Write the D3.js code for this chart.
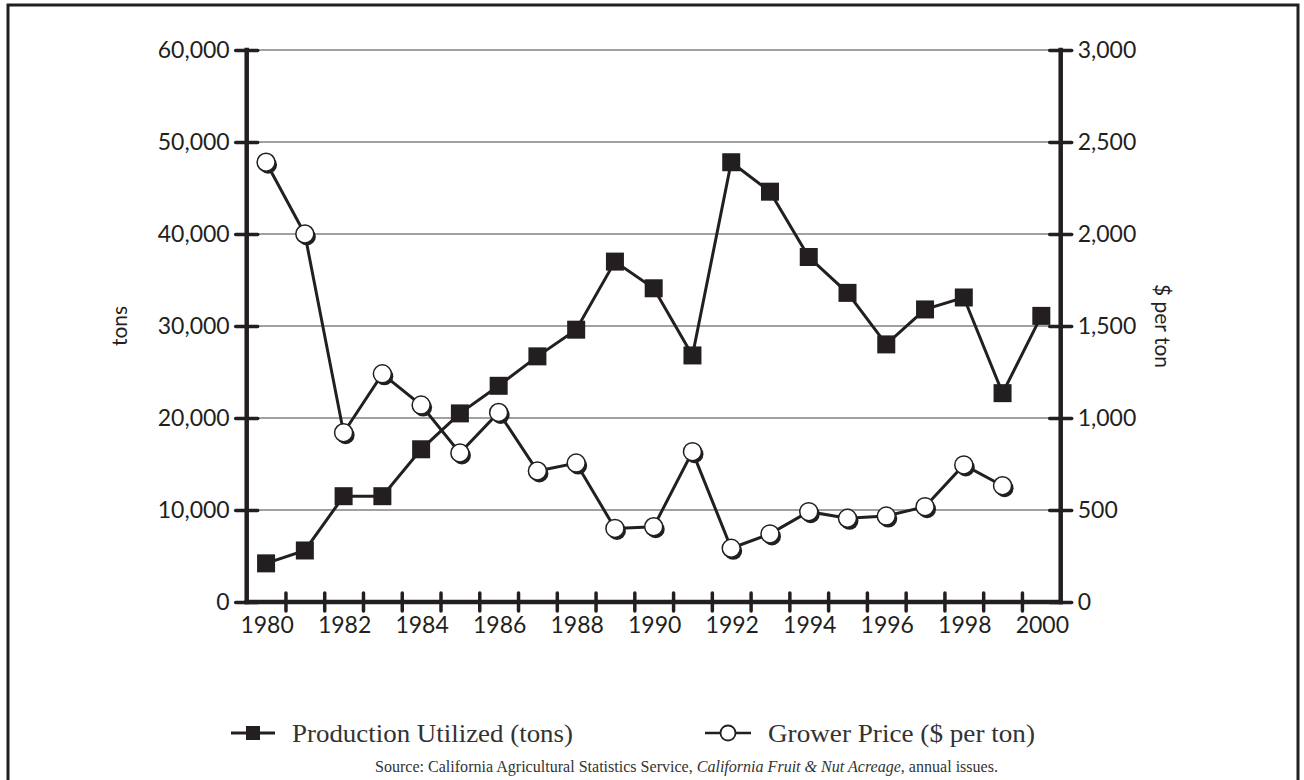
<!DOCTYPE html>
<html>
<head>
<meta charset="utf-8">
<script src="https://cdn.jsdelivr.net/npm/d3@7"></script>
<style>
  html, body { margin: 0; padding: 0; background: #fff; }
  svg { display: block; }
  .tick text { font-family: Lato, "Open Sans", sans-serif; font-size: 23px; fill: #231f20; }
</style>
</head>
<body>
<svg id="chart" width="1304" height="780"></svg>
<script>
"use strict";

// years on the category axis
var years = [1980, 1981, 1982, 1983, 1984, 1985, 1986, 1987, 1988, 1989, 1990,
             1991, 1992, 1993, 1994, 1995, 1996, 1997, 1998, 1999, 2000];
var yearLabels = [1980, 1982, 1984, 1986, 1988, 1990, 1992, 1994, 1996, 1998, 2000];

// production utilized, tons (left axis)
var production = [4200, 5600, 11500, 11500, 16600, 20500, 23500, 26700, 29600, 37000, 34100,
                   26800, 47800, 44600, 37500, 33600, 28000, 31800, 33100, 22700, 31100];

// grower price, $ per ton (right axis); no value for 2000
var price = [2390, 2000, 920, 1240, 1070, 810, 1030, 712, 755, 400, 409,
             817, 292, 370, 491, 455, 467, 518, 745, 632, null];

var tonTicks = [0, 10000, 20000, 30000, 40000, 50000, 60000];
var priceTicks = [0, 500, 1000, 1500, 2000, 2500, 3000];

var ink = "#231f20";
var plotLeft = 246.7, plotRight = 1060.7, plotTop = 50, plotBottom = 602;

var svg = d3.select("#chart");

// outer frame (bottom edge runs off the page)
svg.append("rect")
    .attr("x", 8).attr("y", 5)
    .attr("width", 1290).attr("height", 800)
    .attr("fill", "none")
    .attr("stroke", ink)
    .attr("stroke-width", 3);

var x = d3.scaleBand().domain(years).range([plotLeft, plotRight]);
var xEdge = d3.scaleLinear().domain([1980, 2001]).range([plotLeft, plotRight]);
var yTons = d3.scaleLinear().domain([0, 60000]).range([plotBottom, plotTop]);
var yPrice = d3.scaleLinear().domain([0, 3000]).range([plotBottom, plotTop]);

function cx(d, i) { return x(years[i]) + x.bandwidth() / 2; }

// gridlines
svg.append("g")
    .selectAll("line")
    .data(tonTicks.slice(1))
    .join("line")
    .attr("x1", plotLeft).attr("x2", plotRight)
    .attr("y1", function (d) { return yTons(d); })
    .attr("y2", function (d) { return yTons(d); })
    .attr("stroke", "#444")
    .attr("stroke-width", 1.2);

function styleAxis(g, crossing) {
    g.select(".domain").remove();
    g.selectAll(".tick line")
        .attr("stroke", ink)
        .attr("stroke-width", 3.5)
        .attr("stroke-linecap", "round");
    g.selectAll(".tick line").each(function () {
        var l = d3.select(this);
        if (crossing === "h") l.attr("x1", -(+l.attr("x2")));
        else l.attr("y1", -(+l.attr("y2")));
    });
}

// left axis
svg.append("g")
    .attr("transform", "translate(" + plotLeft + ",0)")
    .call(d3.axisLeft(yTons).tickValues(tonTicks).tickSize(11).tickPadding(6)
        .tickFormat(d3.format(",")))
    .call(styleAxis, "h");

// right axis
svg.append("g")
    .attr("transform", "translate(" + plotRight + ",0)")
    .call(d3.axisRight(yPrice).tickValues(priceTicks).tickSize(11).tickPadding(6)
        .tickFormat(d3.format(",")))
    .call(styleAxis, "h");

// bottom axis: boundary ticks
svg.append("g")
    .attr("transform", "translate(0," + plotBottom + ")")
    .call(d3.axisBottom(xEdge).tickValues(d3.range(1981, 2001)).tickSize(9).tickFormat(""))
    .call(styleAxis, "v");

// bottom axis: year labels at band centres
svg.append("g")
    .attr("transform", "translate(1," + plotBottom + ")")
    .call(d3.axisBottom(x).tickValues(yearLabels).tickSize(0).tickPadding(15))
    .call(function (g) { g.select(".domain").remove(); });

// axis frame lines
svg.append("g")
    .attr("stroke", ink)
    .attr("stroke-width", 4.5)
    .attr("stroke-linecap", "square")
    .selectAll("line")
    .data([[plotLeft, plotTop, plotLeft, plotBottom],
           [plotRight, plotTop, plotRight, plotBottom],
           [plotLeft, plotBottom, plotRight, plotBottom]])
    .join("line")
    .attr("x1", function (d) { return d[0]; })
    .attr("y1", function (d) { return d[1]; })
    .attr("x2", function (d) { return d[2]; })
    .attr("y2", function (d) { return d[3]; });

// axis titles
svg.append("text")
    .attr("transform", "translate(127,326) rotate(-90)")
    .attr("text-anchor", "middle")
    .attr("font-family", "Lato, sans-serif")
    .attr("font-size", 21)
    .attr("fill", ink)
    .text("tons");

svg.append("text")
    .attr("transform", "translate(1155,326) rotate(90)")
    .attr("text-anchor", "middle")
    .attr("font-family", "Lato, sans-serif")
    .attr("font-size", 21)
    .attr("fill", ink)
    .text("$ per ton");

// production series
var prodLine = d3.line()
    .x(cx)
    .y(function (d) { return yTons(d); });

svg.append("path")
    .datum(production)
    .attr("d", prodLine)
    .attr("fill", "none")
    .attr("stroke", ink)
    .attr("stroke-width", 3);

svg.append("g")
    .selectAll("rect")
    .data(production)
    .join("rect")
    .attr("x", function (d, i) { return cx(d, i) - 9; })
    .attr("y", function (d) { return yTons(d) - 9; })
    .attr("width", 18).attr("height", 18)
    .attr("fill", ink);

// price series
var priceLine = d3.line()
    .defined(function (d) { return d != null; })
    .x(cx)
    .y(function (d) { return yPrice(d); });

svg.append("path")
    .datum(price)
    .attr("d", priceLine)
    .attr("fill", "none")
    .attr("stroke", ink)
    .attr("stroke-width", 3);

var pricePts = price.map(function (d, i) { return { v: d, i: i }; })
    .filter(function (p) { return p.v != null; });

var dots = svg.append("g")
    .selectAll("g")
    .data(pricePts)
    .join("g")
    .attr("transform", function (p) {
        return "translate(" + cx(p.v, p.i) + "," + yPrice(p.v) + ")";
    });
dots.append("circle")
    .attr("cx", 2).attr("cy", 2.5).attr("r", 9)
    .attr("fill", ink);
dots.append("circle")
    .attr("r", 9)
    .attr("fill", "#fff")
    .attr("stroke", ink)
    .attr("stroke-width", 1.5);

// legend
var legend = svg.append("g").attr("font-family", "'Liberation Serif', serif")
    .attr("font-size", 26).attr("fill", "#333");

legend.append("line")
    .attr("x1", 231).attr("x2", 275).attr("y1", 733).attr("y2", 733)
    .attr("stroke", ink).attr("stroke-width", 3);
legend.append("rect")
    .attr("x", 246).attr("y", 726).attr("width", 14).attr("height", 14)
    .attr("fill", ink);
legend.append("text")
    .attr("x", 292).attr("y", 742)
    .attr("textLength", 281).attr("lengthAdjust", "spacingAndGlyphs")
    .text("Production Utilized (tons)");

legend.append("line")
    .attr("x1", 705).attr("x2", 751).attr("y1", 733).attr("y2", 733)
    .attr("stroke", ink).attr("stroke-width", 2.5);
legend.append("circle")
    .attr("cx", 728).attr("cy", 733).attr("r", 7.5)
    .attr("fill", "#fff").attr("stroke", ink).attr("stroke-width", 1.8);
legend.append("text")
    .attr("x", 768).attr("y", 742)
    .attr("textLength", 267).attr("lengthAdjust", "spacingAndGlyphs")
    .text("Grower Price ($ per ton)");

// source note
var source = svg.append("text")
    .attr("x", 375).attr("y", 772)
    .attr("font-family", "'Liberation Serif', serif")
    .attr("font-size", 16)
    .attr("textLength", 623).attr("lengthAdjust", "spacingAndGlyphs")
    .attr("fill", "#333");
source.append("tspan").text("Source: California Agricultural Statistics Service, ");
source.append("tspan").attr("font-style", "italic").text("California Fruit & Nut Acreage");
source.append("tspan").text(", annual issues.");
</script>
</body>
</html>
